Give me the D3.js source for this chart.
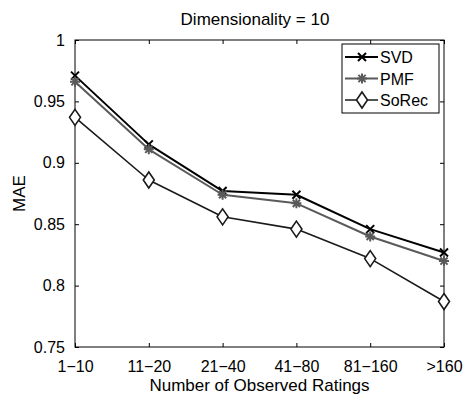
<!DOCTYPE html>
<html>
<head>
<meta charset="utf-8">
<script src="https://cdn.jsdelivr.net/npm/d3@7"></script>
<style>
  body { margin: 0; background: #fff; }
  svg { font-family: "Liberation Sans", Arial, sans-serif; }
</style>
</head>
<body>
<svg id="chart"></svg>
<script>
const categories = ['1\u221210', '11\u221220', '21\u221240', '41\u221280', '81\u2212160', '>160'];
const svdValues = [0.971, 0.915, 0.877, 0.874, 0.846, 0.827];
const pmfValues = [0.966, 0.911, 0.874, 0.867, 0.840, 0.820];
const sorecValues = [0.937, 0.886, 0.856, 0.846, 0.822, 0.787];
const yTicks = [0.75, 0.8, 0.85, 0.9, 0.95, 1];

const config = {
  width: 463,
  height: 398,
  marginTop: 40,
  marginRight: 19,
  marginBottom: 51,
  marginLeft: 75,
  tickLen: 4,
  tickFont: 16,
  labelFont: 17,
};

const { width, height, marginTop, marginRight, marginBottom, marginLeft, tickLen, tickFont, labelFont } = config;
const svg = d3.select('#chart').attr('width', width).attr('height', height);

const x = d3.scalePoint(categories, [marginLeft, width - marginRight]);
const y = d3.scaleLinear([0.75, 1], [height - marginBottom, marginTop]);
const yFmt = (d) => String(+d.toFixed(2));

// axes box
svg.append('rect')
  .attr('x', marginLeft).attr('y', marginTop)
  .attr('width', width - marginLeft - marginRight)
  .attr('height', height - marginTop - marginBottom)
  .attr('fill', 'none').attr('stroke', '#000').attr('stroke-width', 1);

// bottom axis, ticks inward
svg.append('g')
  .attr('transform', `translate(0,${height - marginBottom})`)
  .call(d3.axisBottom(x).tickSizeInner(-tickLen).tickSizeOuter(0).tickPadding(14))
  .call((g) => g.select('.domain').remove())
  .call((g) => g.selectAll('text').attr('font-size', tickFont).attr('font-family', null).attr('fill', '#000'));
// top ticks
svg.append('g')
  .attr('transform', `translate(0,${marginTop})`)
  .call(d3.axisTop(x).tickSizeInner(-tickLen).tickSizeOuter(0).tickFormat(''))
  .call((g) => g.select('.domain').remove());

// left axis
svg.append('g')
  .attr('transform', `translate(${marginLeft},0)`)
  .call(d3.axisLeft(y).tickValues(yTicks).tickFormat(yFmt).tickSizeInner(-tickLen).tickSizeOuter(0).tickPadding(10))
  .call((g) => g.select('.domain').remove())
  .call((g) => g.selectAll('text').attr('font-size', tickFont).attr('font-family', null).attr('fill', '#000'));
// right ticks
svg.append('g')
  .attr('transform', `translate(${width - marginRight},0)`)
  .call(d3.axisRight(y).tickValues(yTicks).tickSizeInner(-tickLen).tickSizeOuter(0).tickFormat(''))
  .call((g) => g.select('.domain').remove());

// labels
svg.append('text')
  .attr('x', 255).attr('y', 25)
  .attr('text-anchor', 'middle').attr('font-size', labelFont)
  .text('Dimensionality = 10');
svg.append('text')
  .attr('x', (marginLeft + width - marginRight) / 2).attr('y', 391)
  .attr('text-anchor', 'middle').attr('font-size', labelFont)
  .text('Number of Observed Ratings');
svg.append('text')
  .attr('transform', `translate(25,${(marginTop + height - marginBottom) / 2}) rotate(-90)`)
  .attr('text-anchor', 'middle').attr('font-size', labelFont)
  .text('MAE');

// markers
const drawMarker = (g, type, cx, cy, color) => {
  if (type === 'x') {
    const s = 4;
    g.append('path')
      .attr('d', `M${cx - s},${cy - s}L${cx + s},${cy + s}M${cx - s},${cy + s}L${cx + s},${cy - s}`)
      .attr('stroke', color).attr('stroke-width', 2).attr('fill', 'none');
  } else if (type === 'star') {
    const s = 5;
    const d = s * 0.72;
    g.append('path')
      .attr('d', `M${cx - s},${cy}L${cx + s},${cy}M${cx},${cy - s}L${cx},${cy + s}` +
        `M${cx - d},${cy - d}L${cx + d},${cy + d}M${cx - d},${cy + d}L${cx + d},${cy - d}`)
      .attr('stroke', color).attr('stroke-width', 2).attr('fill', 'none');
  } else {
    const w = 5.5, h = 8;
    g.append('path')
      .attr('d', `M${cx},${cy - h}L${cx + w},${cy}L${cx},${cy + h}L${cx - w},${cy}Z`)
      .attr('stroke', color).attr('stroke-width', 1.6).attr('fill', '#fff');
  }
};

const series = [
  { name: 'SVD', values: svdValues, color: '#000', marker: 'x', lw: 2 },
  { name: 'PMF', values: pmfValues, color: '#5a5a5a', marker: 'star', lw: 2 },
  { name: 'SoRec', values: sorecValues, color: '#1a1a1a', marker: 'diamond', lw: 1.6 },
];

const line = d3.line().x((d, i) => x(categories[i])).y((d) => y(d));
series.forEach((s) => {
  const g = svg.append('g');
  g.append('path').attr('d', line(s.values))
    .attr('fill', 'none').attr('stroke', s.color).attr('stroke-width', s.lw)
    .attr('stroke-linejoin', 'round');
  s.values.forEach((v, i) => drawMarker(g, s.marker, x(categories[i]), y(v), s.color));
});

// legend
const legend = svg.append('g').attr('transform', 'translate(342,44)');
legend.append('rect').attr('width', 97).attr('height', 69)
  .attr('fill', '#fff').attr('stroke', '#000').attr('stroke-width', 1);
series.forEach((s, i) => {
  const ly = 13 + i * 21.5;
  const g = legend.append('g');
  g.append('line').attr('x1', 3).attr('x2', 36).attr('y1', ly).attr('y2', ly)
    .attr('stroke', s.color).attr('stroke-width', s.lw);
  drawMarker(g, s.marker, 20, ly, s.color);
  g.append('text').attr('x', 38).attr('y', ly + 6).attr('font-size', 16).text(s.name);
});
</script>
</body>
</html>
